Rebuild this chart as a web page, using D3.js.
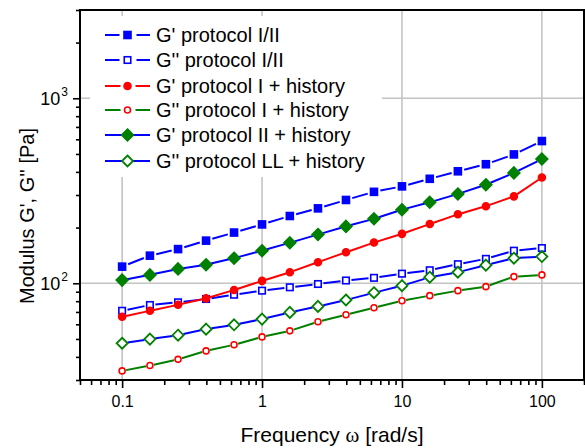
<!DOCTYPE html>
<html>
<head>
<meta charset="utf-8">
<script src="https://cdn.jsdelivr.net/npm/d3@7"></script>
<style>
  html, body { margin: 0; padding: 0; background: #fff; }
  svg { display: block; font-family: Arial, "Liberation Sans", sans-serif; }
</style>
</head>
<body>
<svg id="chart" width="585" height="448"></svg>
<script>
// ---- data ----
const freq = [0.1, 0.158, 0.251, 0.398, 0.631, 1, 1.58, 2.51, 3.98, 6.31, 10, 15.8, 25.1, 39.8, 63.1, 100];
const gpProtocolI_II   = [123, 141, 153, 170, 188, 208, 231, 254, 282, 312, 334, 367, 403, 440, 497, 587];
const gppProtocolI_II  = [71, 76.3, 78.9, 82.2, 86.7, 91.2, 95.1, 99.1, 103.5, 107, 112.7, 117.6, 126.8, 135.5, 150, 155];
const gpProtocolI_hist = [65.9, 71, 76.5, 82.9, 92, 103, 114.7, 130, 147, 166, 185, 209, 236, 261, 295, 373];
const gppProtocolI_hist = [33.6, 35.9, 38.8, 43.1, 46.5, 51.3, 55.3, 61.9, 67.6, 73.7, 80.5, 85.7, 91.2, 95.9, 108.6, 111];
const gpProtocolII_hist = [104, 111, 119.6, 126, 136.7, 150, 165.5, 183.5, 203, 223, 250, 274, 304, 341, 395, 469];
const gppProtocolLL_hist = [47.4, 49.9, 52.4, 56.5, 59.6, 64, 69.6, 75, 81.2, 88.9, 97, 107.8, 114.7, 125.3, 136.7, 139.4];
const seriesNames = ["G' protocol I/II", "G'' protocol I/II", "G' protocol I + history",
                     "G'' protocol I + history", "G' protocol II + history", "G'' protocol LL + history"];
const xMajorTicks = [0.1, 1, 10, 100];
const yMajorTicks = [100, 1000];
const xTitle = "Frequency ";
const yTitle = "Modulus G', G'' [Pa]";

// ---- styles (separate from data) ----
const styles = [
  { line: "#0000ff", marker: "square",  fill: "#0000ff", stroke: "#0000ff", size: 7,  gap: 6.5 },
  { line: "#0000ff", marker: "square",  fill: "#ffffff", stroke: "#0000ff", size: 6.5,gap: 5.5 },
  { line: "#ff0000", marker: "circle",  fill: "#ff0000", stroke: "#ff0000", size: 7,  gap: 4 },
  { line: "#008000", marker: "circle",  fill: "#ffffff", stroke: "#ff0000", size: 6,  gap: 4 },
  { line: "#0000ff", marker: "diamond", fill: "#008000", stroke: "#008000", size: 11.5, gap: 5 },
  { line: "#0000ff", marker: "diamond", fill: "#ffffff", stroke: "#008000", size: 11, gap: 5.5 }
];
const seriesData = [gpProtocolI_II, gppProtocolI_II, gpProtocolI_hist, gppProtocolI_hist, gpProtocolII_hist, gppProtocolLL_hist];

// ---- layout ----
const L = 80, R = 584, T = 10, B = 380;
const svg = d3.select("#chart");
const x = d3.scaleLog().domain([0.05, 200]).range([L, R]);
const y = d3.scaleLog().domain([30, 3000]).range([B, T]);

function minorTicks(domain) {
  const out = [];
  for (let d = -3; d <= 4; d++) {
    for (let k = 1; k <= 9; k++) {
      const v = k * Math.pow(10, d);
      if (v >= domain[0] * 0.999 && v <= domain[1] * 1.001) out.push(v);
    }
  }
  return out;
}
const xMinor = minorTicks(x.domain()).filter(v => !xMajorTicks.some(m => Math.abs(m - v) / m < 1e-6));
const yMinor = minorTicks(y.domain()).filter(v => !yMajorTicks.some(m => Math.abs(m - v) / m < 1e-6));

// grid
const grid = svg.append("g");
grid.selectAll("line.gx").data(xMajorTicks).enter().append("line")
  .attr("x1", d => x(d)).attr("x2", d => x(d)).attr("y1", T).attr("y2", B)
  .attr("stroke", "#c4c4c4").attr("stroke-width", 1.6);
grid.selectAll("line.gy").data(yMajorTicks).enter().append("line")
  .attr("x1", L).attr("x2", R).attr("y1", d => y(d)).attr("y2", d => y(d))
  .attr("stroke", "#c4c4c4").attr("stroke-width", 1.6);

// legend background (covers grid)
svg.append("rect").attr("x", 90).attr("y", 16).attr("width", 292).attr("height", 161).attr("fill", "#fff");

// axes
const axX = svg.append("g").attr("transform", `translate(0,${B})`)
  .call(d3.axisBottom(x).tickValues(xMajorTicks).tickSize(8).tickPadding(8).tickFormat(d => String(d)));
const axXm = svg.append("g").attr("transform", `translate(0,${B})`)
  .call(d3.axisBottom(x).tickValues(xMinor).tickSize(5).tickFormat(""));
const axY = svg.append("g").attr("transform", `translate(${L},0)`)
  .call(d3.axisLeft(y).tickValues(yMajorTicks).tickSize(7).tickFormat(""));
const axYm = svg.append("g").attr("transform", `translate(${L},0)`)
  .call(d3.axisLeft(y).tickValues(yMinor).tickSize(4).tickFormat(""));
[axX, axXm, axY, axYm].forEach(g => {
  g.select(".domain").remove();
  g.selectAll(".tick line").attr("stroke", "#000").attr("stroke-width", 1.6);
});
axX.selectAll(".tick text").attr("font-size", 16).attr("fill", "#000")
  .attr("font-family", "Arial, 'Liberation Sans', sans-serif");

// y major labels 10^n
yMajorTicks.forEach(v => {
  const t = svg.append("text").attr("x", 68).attr("y", y(v) + 7)
    .attr("text-anchor", "end").attr("font-size", 18).attr("fill", "#000");
  t.append("tspan").text("10");
  t.append("tspan").attr("font-size", 12).attr("dy", -9).attr("dx", 1).text(String(Math.round(Math.log10(v))));
});

// frame
svg.append("rect").attr("x", L).attr("y", T).attr("width", R - L).attr("height", B - T)
  .attr("fill", "none").attr("stroke", "#000").attr("stroke-width", 2);

// axis titles
const xt = svg.append("text").attr("x", (L + R) / 2).attr("y", 442).attr("text-anchor", "middle")
  .attr("font-size", 21).attr("fill", "#000");
xt.append("tspan").text(xTitle);
xt.append("tspan").attr("font-family", "'Liberation Serif', 'DejaVu Serif', serif").text("\u03c9");
xt.append("tspan").text(" [rad/s]");
svg.append("text").attr("transform", "translate(34,216) rotate(-90)").attr("text-anchor", "middle")
  .attr("font-size", 20).attr("fill", "#000").text(yTitle);

// marker drawing
function drawMarker(g, st, cx, cy) {
  const s = st.size;
  if (st.marker === "square") {
    g.append("rect").attr("x", cx - s / 2).attr("y", cy - s / 2).attr("width", s).attr("height", s)
      .attr("fill", st.fill).attr("stroke", st.stroke).attr("stroke-width", 1.6);
  } else if (st.marker === "circle") {
    g.append("circle").attr("cx", cx).attr("cy", cy).attr("r", s / 2)
      .attr("fill", st.fill).attr("stroke", st.stroke).attr("stroke-width", 1.6);
  } else {
    const h = s / 2;
    g.append("path").attr("d", `M${cx},${cy - h}L${cx + h},${cy}L${cx},${cy + h}L${cx - h},${cy}Z`)
      .attr("fill", st.fill).attr("stroke", st.stroke).attr("stroke-width", 1.8);
  }
}

// series
const plot = svg.append("g");
seriesData.forEach((vals, i) => {
  const st = styles[i];
  const g = plot.append("g");
  const pts = freq.map((f, j) => [x(f), y(vals[j])]);
  for (let j = 0; j < pts.length - 1; j++) {
    const [x1, y1] = pts[j], [x2, y2] = pts[j + 1];
    const dx = x2 - x1, dy = y2 - y1, len = Math.hypot(dx, dy);
    const ux = dx / len, uy = dy / len;
    g.append("line")
      .attr("x1", x1 + ux * st.gap).attr("y1", y1 + uy * st.gap)
      .attr("x2", x2 - ux * st.gap).attr("y2", y2 - uy * st.gap)
      .attr("stroke", st.line).attr("stroke-width", 2);
  }
  pts.forEach(p => drawMarker(g, st, p[0], p[1]));
});

// legend
const legRows = [35, 60, 86, 110, 135, 161];
seriesNames.forEach((name, i) => {
  const st = styles[i];
  const g = svg.append("g");
  const cy = legRows[i], cx = 127.5;
  const lg = (st.marker === "diamond") ? 0 : (st.marker === "square" ? 8 : 7);
  if (lg === 0) {
    g.append("line").attr("x1", 105).attr("x2", 150).attr("y1", cy).attr("y2", cy)
      .attr("stroke", st.line).attr("stroke-width", 2);
  } else {
    g.append("line").attr("x1", 105).attr("x2", cx - lg).attr("y1", cy).attr("y2", cy)
      .attr("stroke", st.line).attr("stroke-width", 2);
    g.append("line").attr("x1", cx + lg + 1).attr("x2", 150).attr("y1", cy).attr("y2", cy)
      .attr("stroke", st.line).attr("stroke-width", 2);
  }
  drawMarker(g, st, cx, cy);
  g.append("text").attr("x", 156).attr("y", cy + 7).attr("font-size", 20).attr("fill", "#000").text(name);
});
</script>
</body>
</html>
